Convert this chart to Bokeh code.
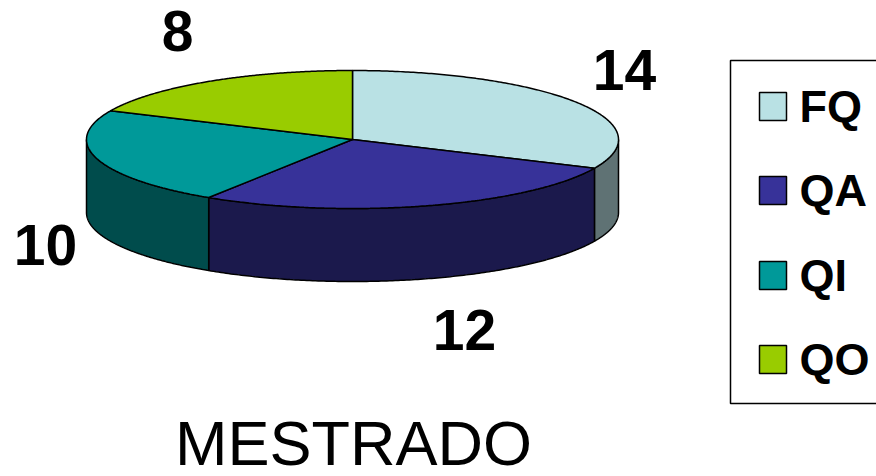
import numpy as np
from bokeh.plotting import figure
from bokeh.models import Range1d
from bokeh.core.properties import value
from bokeh.embed import file_html
from bokeh.resources import INLINE

categories = ["FQ", "QA", "QI", "QO"]
counts = [14, 12, 10, 8]
top_colors = ["#B9E1E4", "#373299", "#009999", "#99CC00"]
side_colors = ["#5F7274", "#1B194C", "#004C4C", "#4C6600"]
title = "MESTRADO"

W, H = 876, 476
CX, CY, RX, RY, DEPTH = 352, 139, 266, 69, 73

p = figure(width=W, height=H, output_backend="svg", toolbar_location=None,
           x_range=Range1d(0, W), y_range=Range1d(H, 0),
           min_border=0, outline_line_color=None, background_fill_color="white")
p.axis.visible = False
p.grid.visible = False

fracs = np.cumsum([0] + counts) / sum(counts)
angles = fracs * 2 * np.pi


def ex(a):
    return CX + RX * np.sin(a)


def ey(a):
    return CY - RY * np.cos(a)


# side walls (only the front half of the ellipse is visible)
for i in range(len(counts)):
    a0, a1 = max(angles[i], np.pi / 2), min(angles[i + 1], 3 * np.pi / 2)
    if a1 <= a0:
        continue
    t = np.linspace(a0, a1, 160)
    xs = np.concatenate([ex(t), ex(t[::-1])])
    ys = np.concatenate([ey(t), ey(t[::-1]) + DEPTH])
    p.patch(xs, ys, fill_color=side_colors[i], line_color="black", line_width=1.5)

# top faces
for i in range(len(counts)):
    t = np.linspace(angles[i], angles[i + 1], 200)
    xs = np.concatenate([[CX], ex(t)])
    ys = np.concatenate([[CY], ey(t)])
    p.patch(xs, ys, fill_color=top_colors[i], line_color="black", line_width=1.5)

# value labels
lab_x = [624, 464, 45, 177]
lab_y = [69, 329, 244, 30]
p.text(lab_x, lab_y, text=[str(c) for c in counts], text_font=value("Liberation Sans"),
       text_font_style="bold", text_font_size="57px", text_align="center",
       text_baseline="middle", text_color="black")

# title
p.text([353], [442], text=[title], text_font=value("Liberation Sans"),
       text_font_size="63px", text_align="center", text_baseline="middle", text_color="black")

# legend
p.quad(left=[730], right=[890], top=[60], bottom=[403], fill_color="white",
       line_color="black", line_width=1.5)
leg_y = [106, 190, 275, 359]
p.rect([772.5] * 4, leg_y, width=27, height=28, fill_color=top_colors,
       line_color="black", line_width=1.5)
p.text([799] * 4, leg_y, text=categories, text_font=value("Liberation Sans"),
       text_font_style="bold", text_font_size="45px", text_align="left",
       text_baseline="middle", text_color="black")

open("out.html", "w").write(file_html(p, INLINE))
